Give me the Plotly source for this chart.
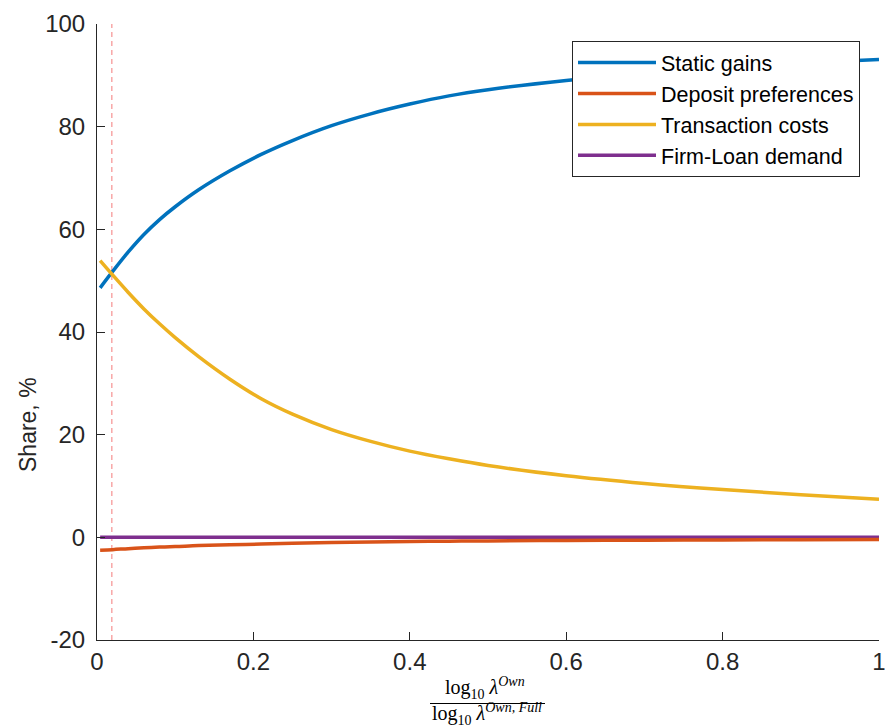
import plotly.graph_objects as go

# x: log10(lambda_Own) / log10(lambda_Own,Full)
x_vals = [0.004, 0.02, 0.04, 0.06, 0.08, 0.10, 0.13, 0.17, 0.21, 0.25, 0.30,
          0.35, 0.40, 0.45, 0.50, 0.60, 0.70, 0.80, 0.90, 1.00]

static_gains = [48.6, 51.8, 55.6, 59.0, 61.9, 64.4, 67.7, 71.4, 74.6, 77.3, 80.2,
                82.5, 84.4, 86.0, 87.2, 89.0, 90.4, 91.5, 92.4, 93.1]
deposit_pref = [-2.5, -2.4, -2.2, -2.05, -1.9, -1.8, -1.6, -1.45, -1.3, -1.15, -1.0,
                -0.9, -0.8, -0.75, -0.7, -0.6, -0.55, -0.5, -0.45, -0.4]
transaction_costs = [53.9, 51.1, 47.7, 44.5, 41.6, 38.9, 35.2, 30.8, 27.0, 24.0, 21.0,
                     18.7, 16.8, 15.3, 14.0, 12.0, 10.5, 9.3, 8.3, 7.4]
firm_loan = [0.0] * len(x_vals)

vline_x = 0.019

x_ticks = [0, 0.2, 0.4, 0.6, 0.8, 1]
x_ticklabels = ["0", "0.2", "0.4", "0.6", "0.8", "1"]
y_ticks = [-20, 0, 20, 40, 60, 80, 100]
y_ticklabels = ["-20", "0", "20", "40", "60", "80", "100"]

AX = "#262626"
FONT = "Liberation Sans, Arial, Helvetica, sans-serif"
SERIF = "Liberation Serif, Times New Roman, serif"

fig = go.Figure()
lw = 3.5
fig.add_trace(go.Scatter(x=x_vals, y=static_gains, mode="lines", name="Static gains",
                         line=dict(color="#0072BD", width=lw, shape="spline"), legendrank=1))
fig.add_trace(go.Scatter(x=x_vals, y=firm_loan, mode="lines", name="Firm-Loan demand",
                         line=dict(color="#7E2F8E", width=lw, shape="spline"), legendrank=4))
fig.add_trace(go.Scatter(x=x_vals, y=deposit_pref, mode="lines", name="Deposit preferences",
                         line=dict(color="#D95319", width=lw, shape="spline"), legendrank=2))
fig.add_trace(go.Scatter(x=x_vals, y=transaction_costs, mode="lines", name="Transaction costs",
                         line=dict(color="#EDB120", width=lw, shape="spline"), legendrank=3))

fig.add_shape(type="line", xref="x", yref="paper", x0=vline_x, x1=vline_x, y0=0, y1=1,
              line=dict(color="#F47A7A", width=1, dash="5px,4px"), layer="below")

W, H = 885, 728
ml, mr, mt, mb = 97, 6, 24, 88
pw, ph = W - ml - mr, H - mt - mb

def px2paper_x(px):
    return (px - ml) / pw

def py2paper_y(py):
    return 1 - (py - mt) / ph

fig.update_layout(
    width=W, height=H,
    margin=dict(l=ml, r=mr, t=mt, b=mb, autoexpand=False),
    paper_bgcolor="white", plot_bgcolor="white",
    font=dict(family=FONT, color=AX, size=24),
    showlegend=True,
    legend=dict(
        x=px2paper_x(572), y=py2paper_y(41), xanchor="left", yanchor="top",
        bordercolor=AX, borderwidth=1, bgcolor="white",
        font=dict(family=FONT, size=21.5, color="black"),
        itemwidth=78, tracegroupgap=0,
    ),
    xaxis=dict(
        range=[0, 1], tickvals=x_ticks, ticktext=x_ticklabels,
        ticks="inside", ticklen=8, tickcolor=AX, tickwidth=1,
        showline=True, linecolor=AX, linewidth=1, mirror=False,
        showgrid=False, zeroline=False, tickfont=dict(size=24, color=AX),
        ticklabeloverflow="allow", automargin=False,
    ),
    yaxis=dict(
        range=[-20, 100], tickvals=y_ticks, ticktext=y_ticklabels,
        ticks="inside", ticklen=8, tickcolor=AX, tickwidth=1,
        showline=True, linecolor=AX, linewidth=1, mirror=False,
        showgrid=False, zeroline=False, tickfont=dict(size=24, color=AX),
        ticklabelstandoff=6, automargin=False,
    ),
)

# y-axis title
fig.add_annotation(text="Share, %", xref="paper", yref="paper",
                   x=px2paper_x(28), y=py2paper_y(425), textangle=-90,
                   showarrow=False, font=dict(family=FONT, size=23, color=AX),
                   xanchor="center", yanchor="middle")

# x-axis title as a fraction
fig.add_annotation(text="log<sub>10</sub> <i>λ</i><sup><i>Own</i></sup>", xref="paper", yref="paper",
                   x=px2paper_x(485), y=py2paper_y(688), showarrow=False,
                   font=dict(family=SERIF, size=20, color="black"),
                   xanchor="center", yanchor="middle")
fig.add_annotation(text="log<sub>10</sub> <i>λ</i><sup><i>Own, Full</i></sup>", xref="paper", yref="paper",
                   x=px2paper_x(487), y=py2paper_y(714), showarrow=False,
                   font=dict(family=SERIF, size=20, color="black"),
                   xanchor="center", yanchor="middle")
fig.add_shape(type="line", xref="paper", yref="paper",
              x0=px2paper_x(430), x1=px2paper_x(545),
              y0=py2paper_y(703.5), y1=py2paper_y(703.5),
              line=dict(color="black", width=1))

fig.write_html("out.html")
